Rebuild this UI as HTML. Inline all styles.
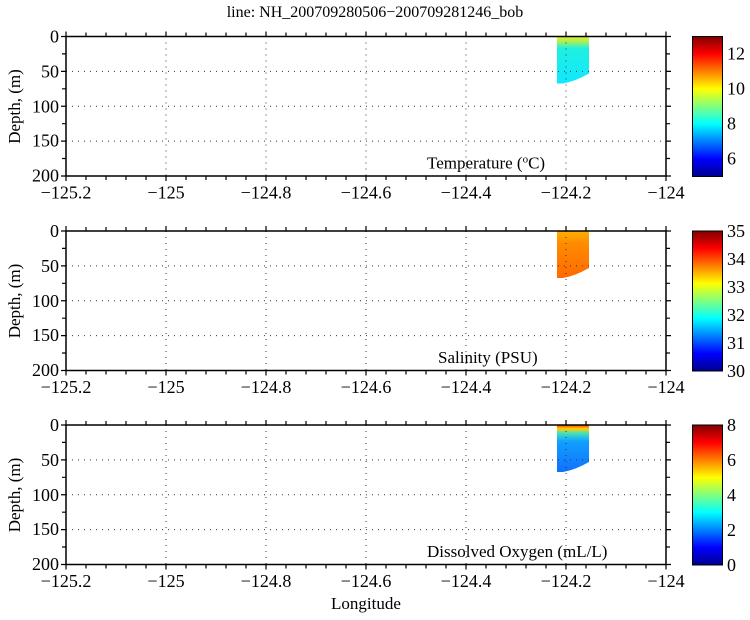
<!DOCTYPE html>
<html><head><meta charset="utf-8"><style>
html,body{margin:0;padding:0;background:#fff;}
text{font-family:'Liberation Serif','DejaVu Serif',serif;}
</style></head><body>
<svg width="750" height="615" viewBox="0 0 750 615" xmlns="http://www.w3.org/2000/svg">
<defs>
<linearGradient id="jet" x1="0" y1="1" x2="0" y2="0">
<stop offset="0" stop-color="#00008f"/>
<stop offset="0.125" stop-color="#0000ff"/>
<stop offset="0.375" stop-color="#00ffff"/>
<stop offset="0.625" stop-color="#ffff00"/>
<stop offset="0.875" stop-color="#ff0000"/>
<stop offset="1" stop-color="#800000"/>
</linearGradient>
<linearGradient id="tg" x1="0" y1="0" x2="0" y2="1">
<stop offset="0" stop-color="#e8f020"/><stop offset="0.12" stop-color="#a0f060"/><stop offset="0.25" stop-color="#20f0e0"/><stop offset="1" stop-color="#10e8ff"/>
</linearGradient>
<linearGradient id="sg" x1="0" y1="0" x2="0" y2="1">
<stop offset="0" stop-color="#ffb000"/><stop offset="0.25" stop-color="#ff8c00"/><stop offset="1" stop-color="#ff6a00"/>
</linearGradient>
<linearGradient id="og" x1="0" y1="0" x2="0" y2="1">
<stop offset="0" stop-color="#ff4000"/><stop offset="0.08" stop-color="#ffd000"/><stop offset="0.18" stop-color="#40e0c0"/><stop offset="0.35" stop-color="#10a0ff"/><stop offset="1" stop-color="#1070ff"/>
</linearGradient>
<g id="axes">
<g stroke="#333" stroke-width="1" stroke-dasharray="1,5">
<line x1="166" y1="0" x2="166" y2="139.5"/><line x1="266" y1="0" x2="266" y2="139.5"/><line x1="366" y1="0" x2="366" y2="139.5"/><line x1="466" y1="0" x2="466" y2="139.5"/><line x1="566" y1="0" x2="566" y2="139.5"/>
<line x1="66" y1="34.9" x2="666" y2="34.9"/><line x1="66" y1="69.75" x2="666" y2="69.75"/><line x1="66" y1="104.6" x2="666" y2="104.6"/>
</g>
<rect x="66" y="0" width="600" height="139.5" fill="none" stroke="#000" stroke-width="1.5"/>
<g stroke="#000" stroke-width="1.2">
<path d="M66 0v-5M86 0v-4M106 0v-4M126 0v-4M146 0v-4M166 0v-5M186 0v-4M206 0v-4M226 0v-4M246 0v-4M266 0v-5M286 0v-4M306 0v-4M326 0v-4M346 0v-4M366 0v-5M386 0v-4M406 0v-4M426 0v-4M446 0v-4M466 0v-5M486 0v-4M506 0v-4M526 0v-4M546 0v-4M566 0v-5M586 0v-4M606 0v-4M626 0v-4M646 0v-4M666 0v-5"/>
<path d="M66 139.5v5M86 139.5v4M106 139.5v4M126 139.5v4M146 139.5v4M166 139.5v5M186 139.5v4M206 139.5v4M226 139.5v4M246 139.5v4M266 139.5v5M286 139.5v4M306 139.5v4M326 139.5v4M346 139.5v4M366 139.5v5M386 139.5v4M406 139.5v4M426 139.5v4M446 139.5v4M466 139.5v5M486 139.5v4M506 139.5v4M526 139.5v4M546 139.5v4M566 139.5v5M586 139.5v4M606 139.5v4M626 139.5v4M646 139.5v4M666 139.5v5"/>
<path d="M66 0h-5M66 17.4h-4M66 34.9h-5M66 52.3h-4M66 69.75h-5M66 87.2h-4M66 104.6h-5M66 122h-4M66 139.5h-5"/>
<path d="M666 0h5M666 17.4h4M666 34.9h5M666 52.3h4M666 69.75h5M666 87.2h4M666 104.6h5M666 122h4M666 139.5h5"/>
</g>
<rect x="692.5" y="0" width="30" height="140" fill="url(#jet)" stroke="#000" stroke-width="1"/>
</g>
<path id="patch" d="M557 0H589V37Q575 45 563 47H557Z"/>
</defs>

<text x="375" y="17" font-size="16" text-anchor="middle">line: NH_200709280506−200709281246_bob</text>

<g transform="translate(0,36.5)">
<use href="#patch" fill="url(#tg)"/>
<use href="#axes"/>
<g font-size="18" text-anchor="end"><text x="59" y="6">0</text><text x="59" y="41">50</text><text x="59" y="76">100</text><text x="59" y="110">150</text><text x="59" y="145">200</text></g>
<g font-size="18" text-anchor="middle"><text x="66" y="162">−125.2</text><text x="166" y="162">−125</text><text x="266" y="162">−124.8</text><text x="366" y="162">−124.6</text><text x="466" y="162">−124.4</text><text x="566" y="162">−124.2</text><text x="666" y="162">−124</text></g>
<text transform="translate(20,70) rotate(-90)" font-size="17" text-anchor="middle">Depth, (m)</text>
<text x="427" y="132" font-size="17">Temperature (<tspan font-size="11" dy="-6">o</tspan><tspan dy="6">C)</tspan></text>
<g font-size="18"><text x="727" y="23">12</text><text x="727" y="58">10</text><text x="727" y="93">8</text><text x="727" y="128">6</text></g>
</g>

<g transform="translate(0,231)">
<use href="#patch" fill="url(#sg)"/>
<use href="#axes"/>
<g font-size="18" text-anchor="end"><text x="59" y="6">0</text><text x="59" y="41">50</text><text x="59" y="76">100</text><text x="59" y="110">150</text><text x="59" y="145">200</text></g>
<g font-size="18" text-anchor="middle"><text x="66" y="162">−125.2</text><text x="166" y="162">−125</text><text x="266" y="162">−124.8</text><text x="366" y="162">−124.6</text><text x="466" y="162">−124.4</text><text x="566" y="162">−124.2</text><text x="666" y="162">−124</text></g>
<text transform="translate(20,70) rotate(-90)" font-size="17" text-anchor="middle">Depth, (m)</text>
<text x="438" y="132" font-size="17">Salinity (PSU)</text>
<g font-size="18"><text x="727" y="6">35</text><text x="727" y="34">34</text><text x="727" y="62">33</text><text x="727" y="90">32</text><text x="727" y="118">31</text><text x="727" y="146">30</text></g>
</g>

<g transform="translate(0,425)">
<use href="#patch" fill="url(#og)"/>
<use href="#axes"/>
<g font-size="18" text-anchor="end"><text x="59" y="6">0</text><text x="59" y="41">50</text><text x="59" y="76">100</text><text x="59" y="110">150</text><text x="59" y="145">200</text></g>
<g font-size="18" text-anchor="middle"><text x="66" y="162">−125.2</text><text x="166" y="162">−125</text><text x="266" y="162">−124.8</text><text x="366" y="162">−124.6</text><text x="466" y="162">−124.4</text><text x="566" y="162">−124.2</text><text x="666" y="162">−124</text></g>
<text transform="translate(20,70) rotate(-90)" font-size="17" text-anchor="middle">Depth, (m)</text>
<text x="427" y="132" font-size="17">Dissolved Oxygen (mL/L)</text>
<g font-size="18"><text x="727" y="6">8</text><text x="727" y="41">6</text><text x="727" y="76">4</text><text x="727" y="111">2</text><text x="727" y="146">0</text></g>
</g>

<text x="366" y="609" font-size="17" text-anchor="middle">Longitude</text>
</svg>
</body></html>
